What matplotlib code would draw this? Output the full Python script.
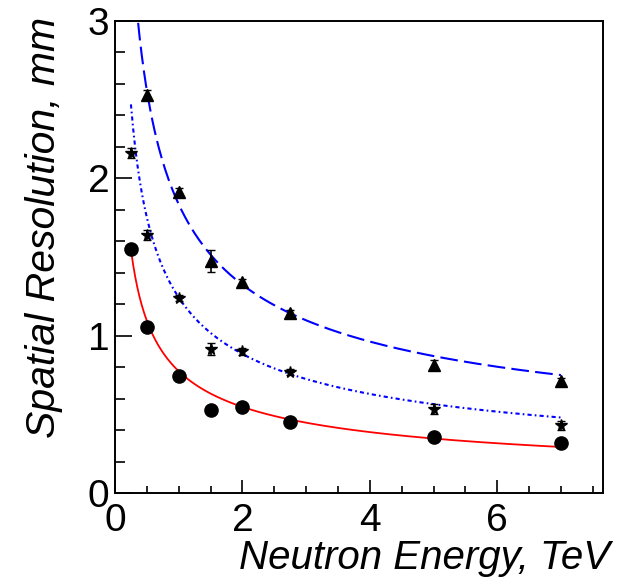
import matplotlib
matplotlib.use("Agg")
import matplotlib.pyplot as plt
import numpy as np

plt.rcParams['font.family'] = ['Liberation Sans', 'DejaVu Sans']

# --- data ---
energy = [0.25, 0.5, 1.0, 1.5, 2.0, 2.75, 5.0, 7.0]

res_circle = [1.55, 1.055, 0.745, 0.525, 0.545, 0.45, 0.355, 0.32]
err_circle = [0.02, 0.02, 0.02, 0.02, 0.02, 0.02, 0.02, 0.02]

res_star = [2.16, 1.64, 1.24, 0.915, 0.90, 0.77, 0.535, 0.43]
err_star = [0.03, 0.03, 0.02, 0.04, 0.02, 0.02, 0.03, 0.03]

energy_tri = [0.5, 1.0, 1.5, 2.0, 2.75, 5.0, 7.0]
res_tri = [2.53, 1.91, 1.475, 1.34, 1.145, 0.815, 0.71]
err_tri = [0.03, 0.03, 0.07, 0.02, 0.02, 0.03, 0.02]

# fit parameters sigma = a/sqrt(E) + b
fit_red = (0.774, 0.0)
fit_dot = (1.227, 0.016)
fit_dash = (1.745, 0.09)
fit_range = (0.25, 7.0)

fig = plt.figure(figsize=(6.19, 5.85), dpi=100)
ax = fig.add_axes([115/619, 1-493/585, (603-115)/619, (493-21)/585])

e = np.linspace(fit_range[0], fit_range[1], 400)
ax.plot(e, fit_red[0]/np.sqrt(e) + fit_red[1], color='red', lw=1.3)
ax.plot(e, fit_dot[0]/np.sqrt(e) + fit_dot[1], color='blue', lw=1.5, ls=(0, (2, 1.5, 0.8, 1.5)))
ax.plot(e, fit_dash[0]/np.sqrt(e) + fit_dash[1], color='blue', lw=1.5, ls=(0, (8.5, 3)))

ax.errorbar(energy, res_circle, yerr=err_circle, fmt='o', color='black', ms=9.5, capsize=3, elinewidth=1.2)
ax.errorbar(energy, res_star, yerr=err_star, fmt='*', color='black', ms=8.5, capsize=3, elinewidth=1.2)
ax.errorbar(energy_tri, res_tri, yerr=err_tri, fmt='^', color='black', ms=9, capsize=3, elinewidth=1.2)

ax.set_xlim(0, 7.66)
ax.set_ylim(0, 3)
ax.set_xticks([0, 2, 4, 6])
ax.set_xticks(np.arange(0, 7.6, 0.5), minor=True)
ax.set_yticks([0, 1, 2, 3])
ax.set_yticks(np.arange(0, 3.01, 0.2), minor=True)
ax.tick_params(axis='x', which='major', direction='in', length=9.5, width=1.2, labelsize=28, pad=7)
ax.tick_params(axis='x', which='minor', direction='in', length=5, width=1.2)
ax.tick_params(axis='y', which='major', direction='in', length=12.5, width=1.2, labelsize=28, pad=4)
ax.tick_params(axis='y', which='minor', direction='in', length=7, width=1.2)
for s in ax.spines.values():
    s.set_linewidth(1.4)

ax.set_xlabel('Neutron Energy, TeV', fontsize=29, style='italic', loc='right')
ax.set_ylabel('Spatial Resolution, mm', fontsize=29.5, style='italic', loc='top')
ax.xaxis.set_label_coords((610-115)/488, (493-539)/472)
ax.yaxis.set_label_coords((63-115)/488, (493-17)/472)

fig.savefig('out.png', dpi=100)
